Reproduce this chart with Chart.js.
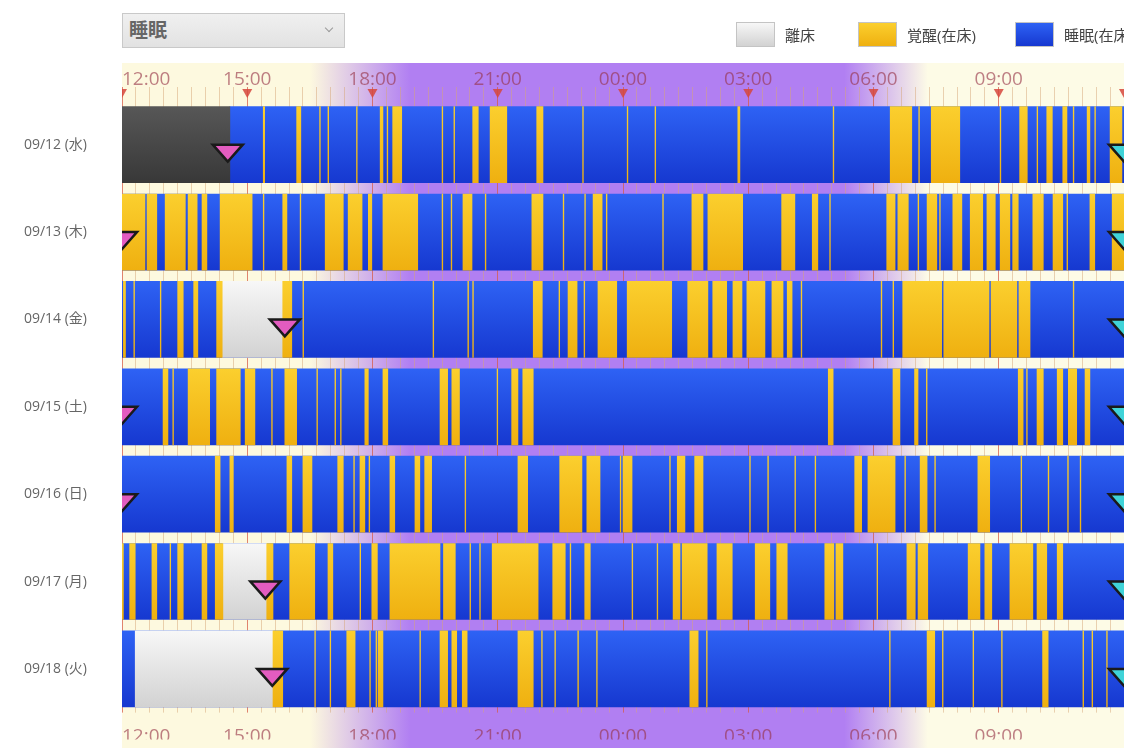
<!DOCTYPE html>
<html lang="ja">
<head>
<meta charset="utf-8">
<title>睡眠</title>
<script src="https://cdn.jsdelivr.net/npm/chart.js@4.4.1/dist/chart.umd.min.js"></script>
<style>
  html, body { margin: 0; padding: 0; background: #fff; overflow: hidden; }
  body { width: 1124px; height: 748px; position: relative; font-family: 'Open Sans', 'Noto Sans CJK JP', sans-serif; }
  /* 5px wider than the window: the bottom axis keeps 5px of right padding */
  #wrap { position: absolute; left: 0; top: 0; width: 1129px; height: 748px; }
  #mode { position: absolute; left: 122px; top: 13px; width: 223px; height: 35px; box-sizing: border-box;
          border: 1px solid #c9c9c9; background: linear-gradient(#f0f0f0, #e2e2e2); color: #666;
          font-size: 19px; line-height: 32px; padding-left: 6px; font-weight: bold; }
  #mode::after { content: ''; position: absolute; right: 12px; top: 11px; width: 5px; height: 5px;
                 border-right: 1.5px solid #9a9a9a; border-bottom: 1.5px solid #9a9a9a; transform: rotate(45deg); }
  #legend { position: absolute; left: 736px; top: 22px; display: flex; white-space: nowrap; }
  .lg { display: flex; align-items: center; height: 25px; font-size: 15px; color: #444; }
  .lg:nth-child(1) { width: 122px; }
  .lg:nth-child(2) { width: 157px; }
  .lg i { display: inline-block; width: 39px; height: 25px; box-sizing: border-box; margin-right: 10px; border: 1px solid #c4c4c4; }
</style>
</head>
<body>
<div id="wrap"><canvas id="sleepChart"></canvas></div>
<div id="mode">睡眠</div>
<div id="legend"></div>
<script>
// rows
const days = ['09/12 (水)', '09/13 (木)', '09/14 (金)', '09/15 (土)', '09/16 (日)', '09/17 (月)', '09/18 (火)'];

// recorded span of each row (blue = 睡眠(在床) underneath everything)
const recordSpan = ['14:35-12:00', '12:00-12:00', '12:00-12:00', '12:00-12:00', '12:00-12:00', '12:00-12:00', '12:00-12:00'];
// no data yet
const noData = [['12:00-14:35'], [], [], [], [], [], []];
// 離床
const outOfBed = [[], [], ['14:24-15:51'], [], [], ['14:25-15:28'], ['12:19-15:37']];

// 覚醒(在床) per day
const awake0912 = ['15:23-15:25', '16:11-16:17', '16:44-16:45', '16:56-16:57', '17:37-17:38', '18:11-18:15', '18:21-18:22',
  '18:29-18:42', '19:40-19:41', '19:57-19:58', '20:24-20:32', '20:49-21:13', '21:56-22:05', '23:02-23:03', '00:06-00:07',
  '00:46-00:47', '02:45-02:48', '05:02-05:03', '06:24-06:55', '07:05-07:06', '07:23-08:04', '09:02-09:03', '09:30-09:41',
  '09:55-09:56', '10:09-10:17', '10:32-10:38', '10:47-10:48', '11:07-11:11', '11:18-11:19', '11:40-11:57'];
const awake0913 = ['12:00-12:33', '12:36-12:50', '13:02-13:31', '13:35-13:48', '13:55-14:02', '14:21-15:07', '15:23-15:24',
  '15:51-15:57', '16:16-16:17', '16:52-17:18', '17:25-17:45', '17:54-17:59', '18:15-19:05', '19:40-19:41', '19:53-19:54',
  '20:10-20:23', '20:42-20:43', '21:49-22:05', '22:34-22:35', '23:05-23:06', '23:17-23:30', '23:36-23:37', '00:57-00:58',
  '01:39-01:55', '02:02-02:52', '03:48-04:07', '04:32-04:40', '04:57-04:58', '06:19-06:31', '06:35-06:50', '07:04-07:05',
  '07:17-07:31', '07:35-07:36', '07:54-08:07', '08:19-08:37', '08:43-08:55', '09:02-09:16', '09:20-09:28', '09:49-10:04',
  '10:18-10:32', '10:38-10:39', '11:11-11:18', '11:43-12:00'];
const awake0914 = ['12:02-12:05', '12:17-12:18', '12:55-12:56', '13:20-13:28', '13:43-13:49', '14:16-14:24', '15:51-16:04',
  '16:20-16:21', '19:27-19:28', '20:17-20:18', '20:24-20:25', '21:51-22:04', '22:28-22:29', '22:41-22:54', '23:04-23:05',
  '23:24-23:51', '00:06-01:10', '01:33-02:02', '02:09-02:29', '02:38-02:51', '02:58-03:24', '03:34-03:50', '03:56-04:03',
  '04:16-04:17', '06:11-06:12', '06:28-06:29', '06:42-07:38', '07:41-08:46', '08:49-09:26', '09:29-09:45', '10:47-10:48'];
const awake0915 = ['12:59-13:06', '13:13-13:14', '13:35-14:06', '14:16-14:50', '14:57-15:11', '15:35-15:36', '15:54-16:11',
  '16:40-16:41', '17:06-17:07', '17:14-17:15', '17:49-17:54', '18:15-18:22', '19:37-19:48', '19:54-20:05', '20:59-21:00',
  '21:20-21:29', '21:36-21:51', '04:55-05:02', '06:28-06:38', '06:59-07:04', '07:16-07:17', '09:28-09:35', '09:40-09:41',
  '09:55-10:04', '10:24-10:32', '10:40-10:52', '11:04-11:11'];
const awake0916 = ['14:14-14:21', '14:35-14:40', '15:57-16:04', '16:20-16:33', '17:10-17:18', '17:33-17:34', '17:42-17:49',
  '17:55-17:56', '18:25-18:32', '19:01-19:08', '19:15-19:25', '20:13-20:14', '21:29-21:43', '22:29-23:01', '23:08-23:27',
  '23:56-23:57', '00:00-00:13', '01:07-01:08', '01:18-01:29', '01:43-01:55', '03:02-03:03', '03:28-03:29', '04:07-04:08',
  '04:36-04:37', '05:33-05:43', '05:52-06:31', '06:45-06:46', '07:07-07:17', '07:28-07:29', '08:30-08:47', '09:32-09:33',
  '10:11-10:12', '10:39-10:40', '10:57-10:58'];
const awake0917 = ['12:00-12:02', '12:11-12:19', '12:43-12:50', '13:09-13:10', '13:20-13:28', '13:55-14:02', '14:14-14:25',
  '15:28-15:37', '16:01-16:37', '16:56-17:03', '17:42-17:43', '17:59-18:07', '18:25-19:37', '19:42-19:59', '20:20-20:21',
  '20:34-20:35', '20:52-21:58', '22:19-22:37', '22:44-22:45', '23:05-23:13', '00:13-00:14', '00:49-00:50', '01:12-01:22',
  '01:25-02:01', '02:15-02:37', '03:10-03:31', '03:41-03:56', '04:50-05:03', '05:06-05:16', '06:05-06:06', '06:48-07:00',
  '07:04-07:18', '08:16-08:33', '08:40-08:50', '09:16-09:49', '09:55-10:09', '10:24-10:32'];
const awake0918 = ['15:37-15:51', '16:37-16:38', '16:59-17:00', '17:23-17:35', '17:56-17:57', '18:05-18:06', '18:08-18:15',
  '19:08-19:09', '19:37-19:48', '19:54-20:01', '20:09-20:16', '21:29-21:51', '22:03-22:04', '22:22-22:23', '22:55-22:56',
  '23:22-23:23', '01:36-01:48', '02:00-02:01', '06:23-06:24', '07:17-07:28', '07:39-07:40', '08:23-08:24', '09:04-09:05',
  '10:03-10:11', '11:01-11:02', '11:14-11:15', '11:35-11:36'];
const awake = [awake0912, awake0913, awake0914, awake0915, awake0916, awake0917, awake0918];

// markers: pink = 就床, cyan = 起床 (12:00 = end of the row)
const bedMarks = ['14:32', '12:00', '15:54', '12:00', '12:00', '15:26', '15:36'];
const riseMarks = ['12:00', '12:00', '12:00', '12:00', '12:00', '12:00', '12:00'];

const DAY_START = 12;
const BAR = 76;

function toHour(s) {
  const [h, m] = s.split(':').map(Number);
  let v = h + m / 60;
  if (v < DAY_START) v += 24;
  return v;
}
function toRange(s) {
  const [a, b] = s.split('-');
  const start = toHour(a);
  let end = toHour(b);
  if (end <= start) end += 24;
  return [start, end];
}
function bars(lists) {
  const out = [];
  lists.forEach((list, i) => list.forEach(r => out.push({ x: toRange(r), y: days[i] })));
  return out;
}
function isMajor(v) { return Math.abs(v / 3 - Math.round(v / 3)) < 1e-6; }
function hourLabel(v) {
  if (!isMajor(v) || Math.round(v) >= DAY_START + 24) return '';
  return String(Math.round(v) % 24).padStart(2, '0') + ':00';
}

// vertical gradient across each bar row
function shade(top, bottom) {
  return function(ctx) {
    const chart = ctx.chart;
    if (!chart.chartArea || !ctx.parsed) return bottom;
    const yc = chart.scales.y.getPixelForValue(ctx.parsed.y);
    const g = chart.ctx.createLinearGradient(0, yc - BAR / 2, 0, yc + BAR / 2);
    g.addColorStop(0, top);
    g.addColorStop(1, bottom);
    return g;
  };
}

const colors = {
  awake: ['#fbcf2e', '#efb010'],
  out: ['#f7f7f7', '#d2d2d2'],
  none: ['#575757', '#383838'],
  sleep: ['#2e62f4', '#1638d0']
};

const dayNight = {
  id: 'dayNight',
  beforeDraw(chart) {
    const { ctx, chartArea: a, scales: { x } } = chart;
    const g = ctx.createLinearGradient(a.left, 0, a.right, 0);
    const stop = h => Math.min(1, Math.max(0, (x.getPixelForValue(h) - a.left) / (a.right - a.left)));
    g.addColorStop(0, '#fdf9df');
    g.addColorStop(stop(16.5), '#fdf9df');
    g.addColorStop(stop(18.9), '#b17ff2');
    g.addColorStop(stop(29.3), '#b17ff2');
    g.addColorStop(stop(31.3), '#fdfbe6');
    g.addColorStop(1, '#fdfbe6');
    ctx.save();
    ctx.fillStyle = g;
    ctx.fillRect(a.left, a.top - 38, chart.width - a.left, chart.height - a.top + 38);
    ctx.restore();
  },
  afterDraw(chart) {
    const { ctx, chartArea: a, scales: { x, y } } = chart;
    ctx.save();
    ctx.beginPath();
    ctx.rect(a.left, 0, a.right - a.left, chart.height);
    ctx.clip();
    // hour markers on the top axis
    ctx.fillStyle = 'rgba(214,70,60,0.85)';
    for (let h = DAY_START; h <= DAY_START + 24; h += 3) {
      const px = x.getPixelForValue(h);
      ctx.beginPath();
      ctx.moveTo(px - 5, a.top - 12);
      ctx.lineTo(px + 5, a.top - 12);
      ctx.lineTo(px, a.top - 3);
      ctx.closePath();
      ctx.fill();
    }
    // bed / rise triangles
    const tri = (h, row, fill) => {
      const px = x.getPixelForValue(h);
      const py = y.getPixelForValue(row);
      ctx.beginPath();
      ctx.moveTo(px - 15, py);
      ctx.lineTo(px + 15, py);
      ctx.lineTo(px, py + 17);
      ctx.closePath();
      ctx.fillStyle = fill;
      ctx.fill();
      ctx.lineWidth = 2.5;
      ctx.strokeStyle = '#1a1a1a';
      ctx.stroke();
    };
    bedMarks.forEach((t, i) => tri(toHour(t), i, '#e35cc0'));
    riseMarks.forEach((t, i) => {
      let h = toHour(t);
      if (h === DAY_START) h += 24;
      tri(h, i, '#3fd3d8');
    });
    ctx.restore();
  }
};

const fontFamily = "'Open Sans', 'Noto Sans CJK JP', sans-serif";
const tickColor = 'rgba(150,50,70,0.62)';

const chart = new Chart(document.getElementById('sleepChart'), {
  type: 'bar',
  data: {
    datasets: [
      { label: '覚醒(在床)', data: bars(awake), backgroundColor: shade(...colors.awake), order: 0 },
      { label: '離床', data: bars(outOfBed), backgroundColor: shade(...colors.out), order: 1 },
      { label: '未計測', data: bars(noData), backgroundColor: shade(...colors.none), order: 2 },
      { label: '睡眠(在床)', data: bars(recordSpan.map(s => [s])), backgroundColor: shade(...colors.sleep), order: 3 }
    ]
  },
  options: {
    indexAxis: 'y',
    responsive: true,
    maintainAspectRatio: false,
    animation: false,
    layout: { padding: { top: 63, left: 0, right: 0, bottom: 0 } },
    datasets: { bar: { barThickness: BAR, grouped: false, borderWidth: 0 } },
    plugins: { legend: { display: false }, tooltip: { enabled: false } },
    scales: {
      x: {
        type: 'linear', position: 'top', min: DAY_START, max: DAY_START + 24,
        afterFit: s => { s.height = 38; },
        border: { display: false },
        grid: {
          color: c => isMajor(c.tick.value) ? 'rgba(214,92,72,0.75)' : 'rgba(214,166,120,0.5)',
          tickLength: 14, lineWidth: 1
        },
        ticks: {
          stepSize: 1 / 3, autoSkip: false, maxRotation: 0, align: 'inner', padding: -4,
          color: tickColor, font: { size: 19, family: fontFamily }, callback: hourLabel
        }
      },
      x2: {
        type: 'linear', position: 'bottom', min: DAY_START, max: DAY_START + 24,
        afterFit: s => { s.height = 27; },
        border: { display: false },
        grid: { display: false },
        ticks: {
          stepSize: 3, autoSkip: false, maxRotation: 0, align: 'inner', padding: 5,
          color: tickColor, font: { size: 19, family: fontFamily }, callback: hourLabel
        }
      },
      y: {
        type: 'category', labels: days, offset: true,
        afterFit: s => { s.width = 122; },
        border: { display: false },
        grid: { display: false },
        ticks: { padding: 27, color: '#666', font: { size: 14, family: fontFamily } }
      }
    }
  },
  plugins: [dayNight]
});

// legend built from the datasets
const legendOrder = ['離床', '覚醒(在床)', '睡眠(在床)'];
const swatch = { '離床': colors.out, '覚醒(在床)': colors.awake, '睡眠(在床)': colors.sleep };
document.getElementById('legend').innerHTML = legendOrder.map(name =>
  `<div class="lg"><i style="background:linear-gradient(${swatch[name][0]},${swatch[name][1]})"></i>${name}</div>`
).join('');
</script>
</body>
</html>
